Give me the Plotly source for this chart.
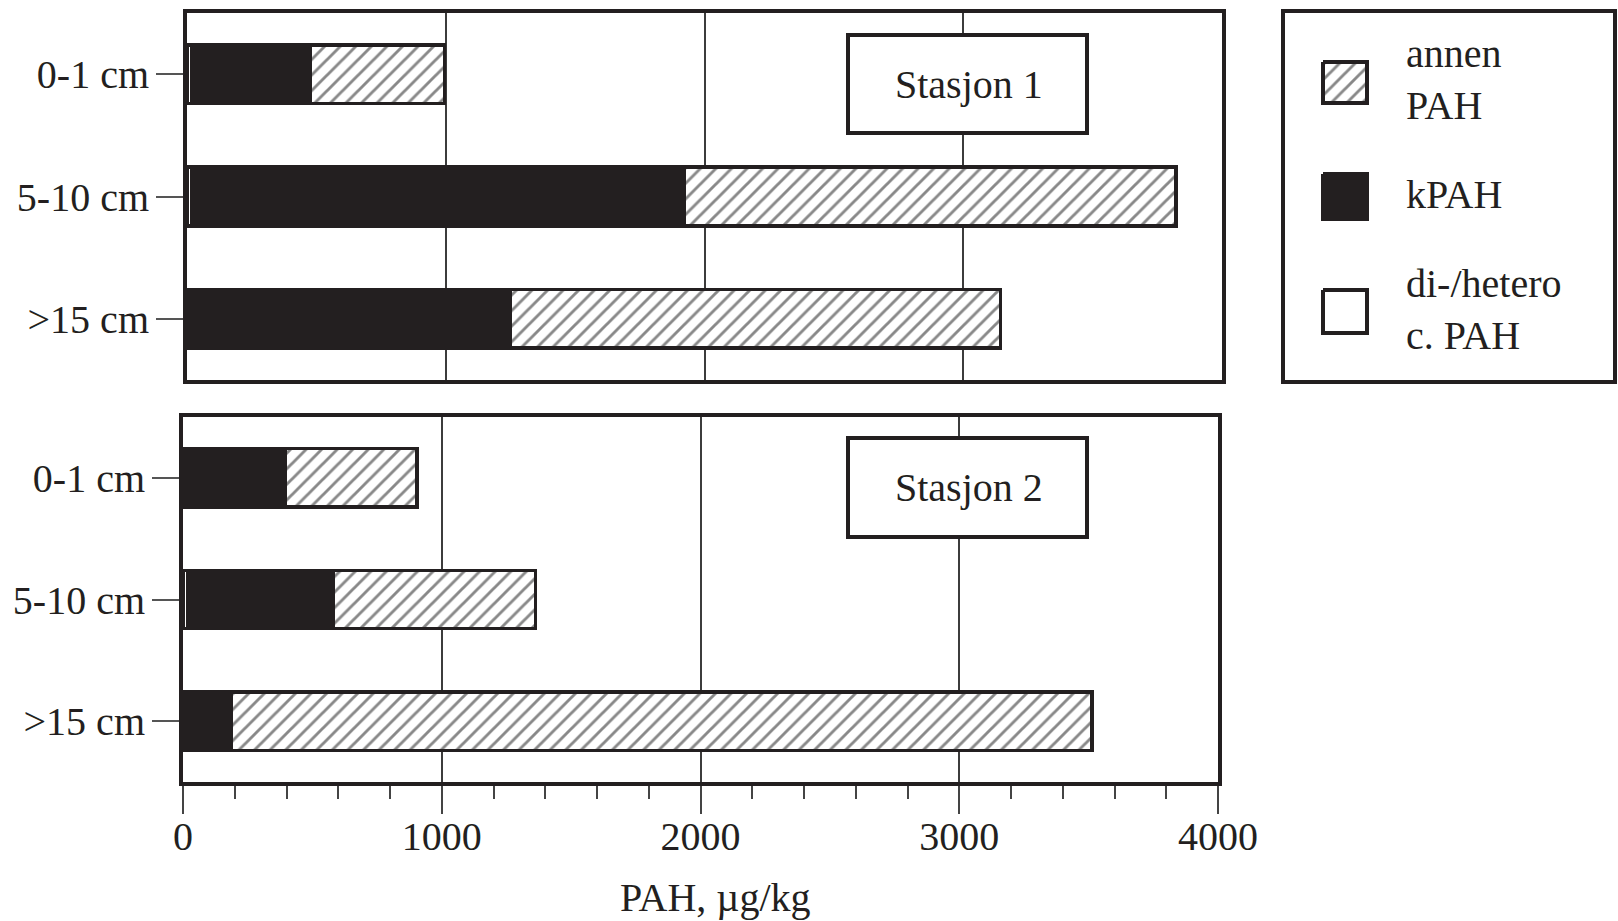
import plotly.graph_objects as go

# ---------------- data ----------------
depths = ["0-1 cm", "5-10 cm", ">15 cm"]
st1_dihetero = [20, 20, 15]
st1_kpah = [458, 1903, 1236]
st1_annen = [518, 1899, 1893]
st2_dihetero = [5, 20, 15]
st2_kpah = [390, 561, 171]
st2_annen = [509, 781, 3327]
x_ticks = [0, 1000, 2000, 3000, 4000]
series_names = ["di-/hetero c. PAH", "kPAH", "annen PAH"]
legend_labels = ["annen<br>PAH", "kPAH", "di-/hetero<br>c. PAH"]
station_labels = ["Stasjon 1", "Stasjon 2"]
x_title = "PAH, µg/kg"

# ---------------- styling ----------------
W, H = 1618, 921
INK = "#231f20"
FONT = "Liberation Serif, Times New Roman, serif"
FS = 40


def px_x(v):
    return v / W


def px_y(v):
    return 1 - v / H


fig = go.Figure()

hatch = dict(shape="/", fgcolor="#111111", bgcolor="white", size=11, solidity=0.26)
line = dict(color=INK, width=3.5)

panels = [
    (st1_dihetero, st1_kpah, st1_annen, "x", "y"),
    (st2_dihetero, st2_kpah, st2_annen, "x2", "y2"),
]
for di, kp, an, xa, ya in panels:
    fig.add_trace(go.Bar(y=depths, x=di, orientation="h", name=series_names[0],
                         marker=dict(color="white", line=line), width=0.48,
                         xaxis=xa, yaxis=ya, showlegend=False))
    fig.add_trace(go.Bar(y=depths, x=kp, orientation="h", name=series_names[1],
                         marker=dict(color=INK, line=line), width=0.48,
                         xaxis=xa, yaxis=ya, showlegend=False))
    fig.add_trace(go.Bar(y=depths, x=an, orientation="h", name=series_names[2],
                         marker=dict(color="white", line=line, pattern=hatch), width=0.48,
                         xaxis=xa, yaxis=ya, showlegend=False))

# legend swatches (decoration) on an overlay axis in pixel units
sw_x0, sw_x1 = 1323, 1367
sw_rows = [(62, 103), (174, 219), (290, 333)]
sw_styles = [
    dict(fillcolor="white", fillpattern=dict(shape="/", fgcolor="#111111", bgcolor="white", size=11, solidity=0.26)),
    dict(fillcolor=INK),
    dict(fillcolor="white"),
]
for (y0, y1), st in zip(sw_rows, sw_styles):
    fig.add_trace(go.Scatter(x=[sw_x0, sw_x1, sw_x1, sw_x0, sw_x0],
                             y=[y0, y0, y1, y1, y0], mode="lines", fill="toself",
                             line=dict(color=INK, width=4), hoverinfo="skip",
                             xaxis="x3", yaxis="y3", showlegend=False, **st))

axis_common = dict(
    range=[0, 4000], tickvals=x_ticks, showgrid=True, gridcolor="#3c3c3c", gridwidth=1.5,
    showline=True, linecolor=INK, linewidth=4, mirror=True, zeroline=False,
    tickfont=dict(family=FONT, size=FS, color=INK), automargin=False,
)
yaxis_common = dict(
    categoryorder="array", categoryarray=depths, range=[2.5, -0.5],
    showline=True, linecolor=INK, linewidth=4, mirror=True, showgrid=False,
    ticks="outside", ticklen=27, tickwidth=1.5, tickcolor="#555555", ticklabelstandoff=-1,
    tickfont=dict(family=FONT, size=FS, color=INK), automargin=False,
)

fig.update_layout(
    width=W, height=H,
    margin=dict(l=0, r=0, t=0, b=0),
    paper_bgcolor="white", plot_bgcolor="rgba(0,0,0,0)",
    barmode="stack", bargap=0.5,
    showlegend=False,
    xaxis=dict(domain=[px_x(187), px_x(1222)], anchor="y", showticklabels=False, ticks="", **axis_common),
    yaxis=dict(domain=[px_y(380), px_y(13)], anchor="x", **yaxis_common),
    xaxis2=dict(domain=[px_x(183), px_x(1218)], anchor="y2", ticks="outside", ticklen=28,
                tickwidth=1.5, tickcolor="#444444", ticklabelstandoff=-12,
                minor=dict(dtick=200, ticks="outside", ticklen=13, tickwidth=1.5,
                           tickcolor="#444444", showgrid=False),
                **axis_common),
    yaxis2=dict(domain=[px_y(782), px_y(417)], anchor="x2", **yaxis_common),
    xaxis3=dict(domain=[px_x(1283), px_x(1615)], range=[1283, 1615], anchor="y3",
                visible=False, fixedrange=True),
    yaxis3=dict(domain=[px_y(382), px_y(11)], range=[382, 11], anchor="x3",
                visible=False, fixedrange=True),
)

shapes = []
annotations = []
# station label boxes
for label, (y0, y1) in zip(station_labels, [(35, 133), (438, 537)]):
    shapes.append(dict(type="rect", xref="paper", yref="paper",
                       x0=px_x(848), x1=px_x(1087), y0=px_y(y1), y1=px_y(y0),
                       line=dict(color=INK, width=4), fillcolor="white", layer="above"))
    annotations.append(dict(text=label, xref="paper", yref="paper",
                            x=px_x(969), y=px_y((y0 + y1) / 2), showarrow=False,
                            xanchor="center", yanchor="middle",
                            font=dict(family=FONT, size=FS, color=INK)))
# legend box
shapes.append(dict(type="rect", xref="paper", yref="paper",
                   x0=px_x(1283), x1=px_x(1615), y0=px_y(382), y1=px_y(11),
                   line=dict(color=INK, width=4), fillcolor="rgba(0,0,0,0)", layer="above"))
legend_text_y = [79, 195, 310]
for lab, ty in zip(legend_labels, legend_text_y):
    annotations.append(dict(text=lab, xref="paper", yref="paper",
                            x=px_x(1404), y=px_y(ty), showarrow=False,
                            xanchor="left", yanchor="middle", align="left",
                            font=dict(family=FONT, size=FS, color=INK)))
# x-axis title
annotations.append(dict(text=x_title, xref="paper", yref="paper",
                        x=px_x(715), y=px_y(897), showarrow=False,
                        xanchor="center", yanchor="middle",
                        font=dict(family=FONT, size=FS, color=INK)))

fig.update_layout(shapes=shapes, annotations=annotations)

fig.write_html("out.html", config={"displayModeBar": False},
               post_script="document.body.style.margin='0';document.body.style.overflow='hidden';")
